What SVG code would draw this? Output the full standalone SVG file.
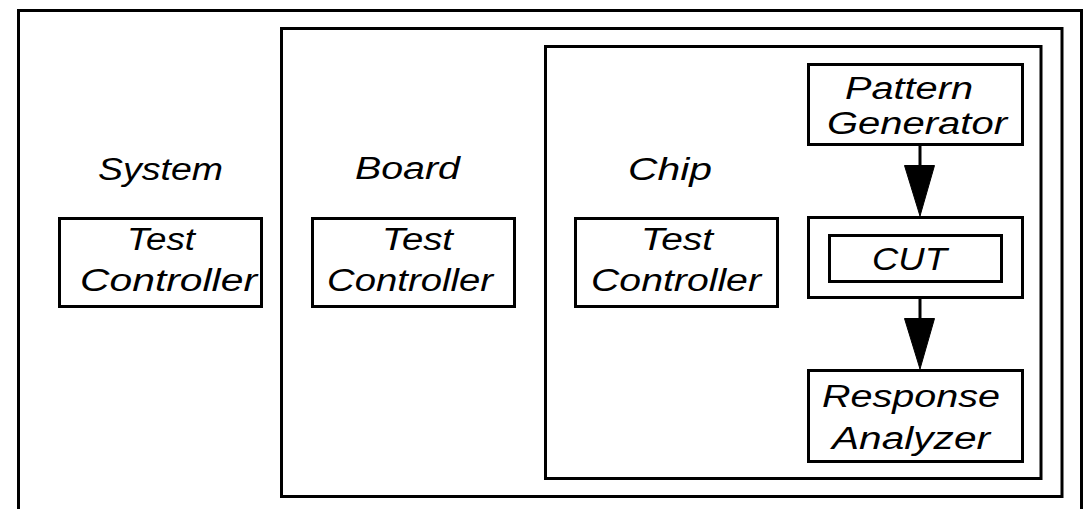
<svg xmlns="http://www.w3.org/2000/svg" width="1085" height="509" viewBox="0 0 1085 509">
  <style>
    .box { fill: none; stroke: #000; stroke-width: 3; }
    .lbl { font-family: "Liberation Sans", Arial, sans-serif; font-style: italic; font-size: 31px; fill: #000; }
    .wire { stroke: #000; stroke-width: 3; fill: none; }
    .head { fill: #000; stroke: #000; stroke-width: 1; }
  </style>
  <rect width="1085" height="509" fill="#fff"/>

  <!-- System level -->
  <g id="system">
    <rect class="box" x="18.5" y="10.5" width="1063" height="510"/>
    <text class="lbl" x="98" y="180" textLength="125" lengthAdjust="spacingAndGlyphs">System</text>
  </g>
  <g id="system-test-controller">
    <rect class="box" x="59.5" y="218.5" width="202" height="88"/>
    <text class="lbl" x="127" y="250" textLength="68" lengthAdjust="spacingAndGlyphs">Test</text>
    <text class="lbl" x="80" y="291" textLength="177" lengthAdjust="spacingAndGlyphs">Controller</text>
  </g>

  <!-- Board level -->
  <g id="board">
    <rect class="box" x="281.5" y="28.5" width="780.5" height="468"/>
    <text class="lbl" x="355" y="179" textLength="105" lengthAdjust="spacingAndGlyphs">Board</text>
  </g>
  <g id="board-test-controller">
    <rect class="box" x="312.5" y="218.5" width="202" height="88"/>
    <text class="lbl" x="382" y="250" textLength="71" lengthAdjust="spacingAndGlyphs">Test</text>
    <text class="lbl" x="327" y="291" textLength="166" lengthAdjust="spacingAndGlyphs">Controller</text>
  </g>

  <!-- Chip level -->
  <g id="chip">
    <rect class="box" x="545.5" y="46.5" width="495.5" height="432"/>
    <text class="lbl" x="628" y="180" textLength="84" lengthAdjust="spacingAndGlyphs">Chip</text>
  </g>
  <g id="chip-test-controller">
    <rect class="box" x="575.5" y="218.5" width="202" height="88"/>
    <text class="lbl" x="641" y="250" textLength="72" lengthAdjust="spacingAndGlyphs">Test</text>
    <text class="lbl" x="591" y="291" textLength="170" lengthAdjust="spacingAndGlyphs">Controller</text>
  </g>

  <g id="pattern-generator">
    <rect class="box" x="808.5" y="64.5" width="214" height="80"/>
    <text class="lbl" x="845" y="98.5" textLength="128" lengthAdjust="spacingAndGlyphs">Pattern</text>
    <text class="lbl" x="827" y="133.5" textLength="180" lengthAdjust="spacingAndGlyphs">Generator</text>
  </g>

  <g id="cut">
    <rect class="box" x="808.5" y="217.5" width="214" height="80"/>
    <rect class="box" x="829.5" y="235.5" width="172" height="46"/>
    <text class="lbl" x="872" y="270" textLength="75" lengthAdjust="spacingAndGlyphs">CUT</text>
  </g>

  <g id="response-analyzer">
    <rect class="box" x="808.5" y="370.5" width="214" height="91"/>
    <text class="lbl" x="822" y="406.5" textLength="178" lengthAdjust="spacingAndGlyphs">Response</text>
    <text class="lbl" x="832" y="449" textLength="158" lengthAdjust="spacingAndGlyphs">Analyzer</text>
  </g>

  <!-- Data flow -->
  <g id="connectors">
    <line class="wire" x1="920" y1="145" x2="920" y2="166"/>
    <polygon class="head" points="904.5,165.5 934.5,165.5 920,216"/>
    <line class="wire" x1="920" y1="298" x2="920" y2="319"/>
    <polygon class="head" points="904.5,318.5 934.5,318.5 920,369"/>
  </g>
</svg>
